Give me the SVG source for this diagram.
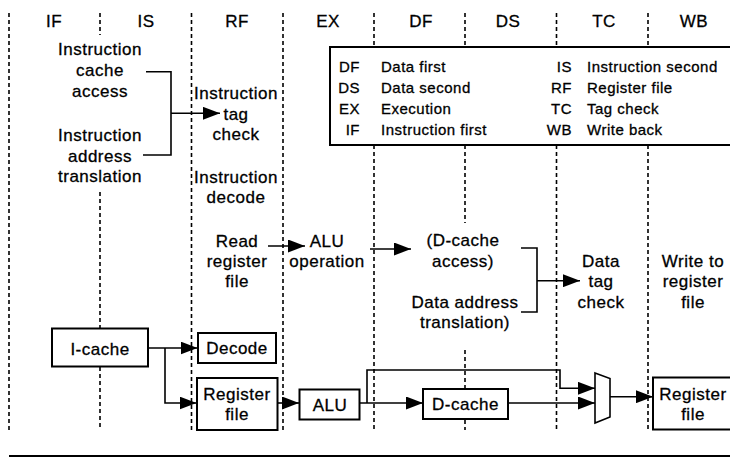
<svg xmlns="http://www.w3.org/2000/svg" width="730" height="458" viewBox="0 0 730 458">
<style>
text{font-family:"Liberation Sans",Arial,sans-serif;fill:#000;stroke:#000;stroke-width:0.3}
.t{font-size:17px;letter-spacing:0.5px;text-anchor:middle}
.h{font-size:17px;letter-spacing:0.5px;text-anchor:middle}
.lg{font-size:15px;letter-spacing:0.5px}
.ab{text-anchor:end}
.dash{stroke:#000;stroke-width:1.6;stroke-dasharray:4 3;fill:none}
.ln{stroke:#000;stroke-width:1.6;fill:none}
.box{stroke:#000;stroke-width:2;fill:#fff}
.ar{marker-end:url(#ah)}
</style>
<defs>
<marker id="ah" markerUnits="userSpaceOnUse" markerWidth="17" markerHeight="13" refX="17" refY="6.5" orient="auto">
<path d="M0,0 L17,6.5 L0,13 z" fill="#000"/>
</marker>
</defs>
<rect width="730" height="458" fill="#fff"/>

<g id="stage-lines">
<path class="dash" d="M9,13 V430"/>
<path class="dash" d="M100,13 V35 M100,192 V430"/>
<path class="dash" d="M191.5,13 V430"/>
<path class="dash" d="M283,13 V430"/>
<path class="dash" d="M374,13 V47 M374,145 V430"/>
<path class="dash" d="M465,13 V47 M465,145 V223 M465,350 V430"/>
<path class="dash" d="M556.5,13 V47 M556.5,145 V430"/>
<path class="dash" d="M648,13 V47 M648,145 V430"/>
</g>

<g id="headers">
<text class="h" x="54" y="27">IF</text>
<text class="h" x="146" y="27">IS</text>
<text class="h" x="237" y="27">RF</text>
<text class="h" x="328" y="27">EX</text>
<text class="h" x="421" y="27">DF</text>
<text class="h" x="508" y="27">DS</text>
<text class="h" x="604" y="27">TC</text>
<text class="h" x="694" y="27">WB</text>
</g>

<g id="legend">
<rect x="330" y="47" width="405" height="98" class="box"/>
<text class="lg ab" x="360" y="72">DF</text><text class="lg" x="381" y="72">Data first</text>
<text class="lg ab" x="360" y="93">DS</text><text class="lg" x="381" y="93">Data second</text>
<text class="lg ab" x="360" y="114">EX</text><text class="lg" x="381" y="114">Execution</text>
<text class="lg ab" x="360" y="135">IF</text><text class="lg" x="381" y="135">Instruction first</text>
<text class="lg ab" x="572" y="72">IS</text><text class="lg" x="587" y="72">Instruction second</text>
<text class="lg ab" x="572" y="93">RF</text><text class="lg" x="587" y="93">Register file</text>
<text class="lg ab" x="572" y="114">TC</text><text class="lg" x="587" y="114">Tag check</text>
<text class="lg ab" x="572" y="135">WB</text><text class="lg" x="587" y="135">Write back</text>
</g>

<g id="icache-access">
<text class="t" x="100" y="55">Instruction</text>
<text class="t" x="100" y="76">cache</text>
<text class="t" x="100" y="97">access</text>
</g>
<g id="iaddr-translation">
<text class="t" x="100" y="141">Instruction</text>
<text class="t" x="100" y="162">address</text>
<text class="t" x="100" y="182">translation</text>
</g>
<g id="itag-check">
<text class="t" x="236" y="99">Instruction</text>
<text class="t" x="236" y="120">tag</text>
<text class="t" x="236" y="140">check</text>
</g>
<g id="idecode">
<text class="t" x="236" y="183">Instruction</text>
<text class="t" x="236" y="203">decode</text>
</g>
<g id="read-regfile">
<text class="t" x="237" y="246.5">Read</text>
<text class="t" x="237" y="266.5">register</text>
<text class="t" x="237" y="286.5">file</text>
</g>
<g id="alu-op">
<text class="t" x="327" y="246.5">ALU</text>
<text class="t" x="327" y="266.5">operation</text>
</g>
<g id="dcache-access">
<text class="t" x="463" y="246">(D-cache</text>
<text class="t" x="463" y="266.5">access)</text>
</g>
<g id="daddr-translation">
<text class="t" x="465" y="308">Data address</text>
<text class="t" x="465" y="328">translation)</text>
</g>
<g id="dtag-check">
<text class="t" x="601" y="266.5">Data</text>
<text class="t" x="601" y="287">tag</text>
<text class="t" x="601" y="308">check</text>
</g>
<g id="write-reg">
<text class="t" x="693" y="266.5">Write to</text>
<text class="t" x="693" y="287">register</text>
<text class="t" x="693" y="308">file</text>
</g>

<g id="connectors">
<path class="ln" d="M146,71.7 H171 V155 H143"/>
<path class="ln ar" d="M171,113.3 H220"/>
<path class="ln ar" d="M268,246 H305"/>
<path class="ln ar" d="M370,249 H411"/>
<path class="ln" d="M521,248 H537 V312 H521"/>
<path class="ln ar" d="M537,280.7 H580"/>
<path class="ln ar" d="M148,348 H197.5"/>
<path class="ln ar" d="M165,348 V403 H196.5"/>
<path class="ln ar" d="M278,403 H299"/>
<path class="ln ar" d="M360,403 H423"/>
<path class="ln ar" d="M367,403 V370 H560 V388.3 H595"/>
<path class="ln ar" d="M508,403 H595"/>
<path class="ln ar" d="M610,396.7 H653"/>
</g>

<g id="icache"><rect class="box" x="52" y="328.5" width="96" height="38"/><text class="t" x="100" y="355">I-cache</text></g>
<g id="decode"><rect class="box" x="198" y="333" width="78" height="30"/><text class="t" x="237" y="354">Decode</text></g>
<g id="regfile-rf"><rect class="box" x="197" y="378" width="80.5" height="52"/><text class="t" x="237" y="400">Register</text><text class="t" x="237" y="420">file</text></g>
<g id="alu"><rect class="box" x="299.5" y="389.5" width="60" height="30"/><text class="t" x="330" y="410.5">ALU</text></g>
<g id="dcache"><rect class="box" x="423" y="389" width="85" height="30"/><text class="t" x="465.5" y="409.5">D-cache</text></g>
<g id="mux"><polygon points="595,373 610,378.5 610,417 595,423" stroke="#000" stroke-width="1.6" fill="#fff"/></g>
<g id="regfile-wb"><rect class="box" x="653" y="377.5" width="82" height="52"/><text class="t" x="693" y="400">Register</text><text class="t" x="693" y="420">file</text></g>

<g id="baseline"><path d="M9,456 H730" stroke="#000" stroke-width="2.2"/></g>
</svg>
